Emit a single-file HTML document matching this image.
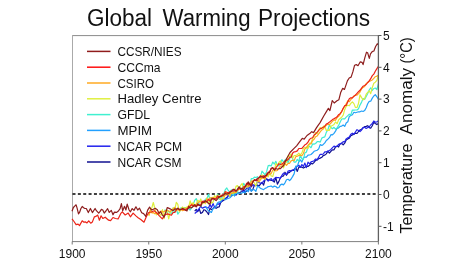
<!DOCTYPE html>
<html><head><meta charset="utf-8">
<style>
html,body{margin:0;padding:0;background:#fff;}
body{width:475px;height:265px;overflow:hidden;}
svg{display:block;will-change:transform;}
text{font-family:"Liberation Sans",sans-serif;fill:#111;}
.tk{font-size:12px;}
.lg{font-size:13.5px;}
.title{font-size:23px;}
.ylab{font-size:16.5px;}
</style></head>
<body>
<svg width="475" height="265" viewBox="0 0 475 265">
<text x="87" y="26" class="title" textLength="65.07" lengthAdjust="spacingAndGlyphs">Global</text>
<text x="162.5" y="26" class="title" textLength="88.03" lengthAdjust="spacingAndGlyphs">Warming</text>
<text x="258" y="26" class="title" textLength="112.07" lengthAdjust="spacingAndGlyphs">Projections</text>
<line x1="72" y1="35.6" x2="378.4" y2="35.6" stroke="#8a8a8a" stroke-width="1"/>
<line x1="72.5" y1="35.1" x2="72.5" y2="241.5" stroke="#aaa" stroke-width="1"/>
<line x1="72" y1="241.6" x2="378.4" y2="241.6" stroke="#808080" stroke-width="1"/>
<line x1="72.20" y1="241.5" x2="72.20" y2="244.5" stroke="#777" stroke-width="1"/>
<text x="72.20" y="257.8" class="tk" text-anchor="middle">1900</text>
<line x1="148.75" y1="241.5" x2="148.75" y2="244.5" stroke="#777" stroke-width="1"/>
<text x="148.75" y="257.8" class="tk" text-anchor="middle">1950</text>
<line x1="225.30" y1="241.5" x2="225.30" y2="244.5" stroke="#777" stroke-width="1"/>
<text x="225.30" y="257.8" class="tk" text-anchor="middle">2000</text>
<line x1="301.85" y1="241.5" x2="301.85" y2="244.5" stroke="#777" stroke-width="1"/>
<text x="301.85" y="257.8" class="tk" text-anchor="middle">2050</text>
<line x1="378.40" y1="241.5" x2="378.40" y2="244.5" stroke="#777" stroke-width="1"/>
<text x="378.40" y="257.8" class="tk" text-anchor="middle">2100</text>
<line x1="378.4" y1="226.30" x2="381.5" y2="226.30" stroke="#555" stroke-width="1"/>
<text x="383" y="230.60" class="tk">-1</text>
<line x1="378.4" y1="194.50" x2="381.5" y2="194.50" stroke="#555" stroke-width="1"/>
<text x="383" y="198.80" class="tk">0</text>
<line x1="378.4" y1="162.70" x2="381.5" y2="162.70" stroke="#555" stroke-width="1"/>
<text x="383" y="167.00" class="tk">1</text>
<line x1="378.4" y1="130.90" x2="381.5" y2="130.90" stroke="#555" stroke-width="1"/>
<text x="383" y="135.20" class="tk">2</text>
<line x1="378.4" y1="99.10" x2="381.5" y2="99.10" stroke="#555" stroke-width="1"/>
<text x="383" y="103.40" class="tk">3</text>
<line x1="378.4" y1="67.30" x2="381.5" y2="67.30" stroke="#555" stroke-width="1"/>
<text x="383" y="71.60" class="tk">4</text>
<line x1="378.4" y1="35.50" x2="381.5" y2="35.50" stroke="#555" stroke-width="1"/>
<text x="383" y="39.80" class="tk">5</text>
<line x1="72.5" y1="194" x2="378" y2="194" stroke="#000" stroke-width="1.6" stroke-dasharray="3 2.36"/>
<g>
<path d="M194.7,211.1 L196.2,209.3 L197.7,211.7 L199.3,209.0 L200.8,213.5 L202.3,212.6 L203.9,209.7 L205.4,210.3 L206.9,212.0 L208.5,214.5 L210.0,208.2 L211.5,209.6 L213.1,208.7 L214.6,206.8 L216.1,208.4 L217.6,207.2 L219.2,206.8 L220.7,202.6 L222.2,201.1 L223.8,200.3 L225.3,198.5 L226.8,197.5 L228.4,195.4 L229.9,196.0 L231.4,195.9 L233.0,195.0 L234.5,194.4 L236.0,195.0 L237.5,192.4 L239.1,193.6 L240.6,192.0 L242.1,191.5 L243.7,190.5 L245.2,191.7 L246.7,191.4 L248.3,189.6 L249.8,187.8 L251.3,191.0 L252.9,189.1 L254.4,185.1 L255.9,185.5 L257.5,185.1 L259.0,186.0 L260.5,184.2 L262.0,182.3 L263.6,185.1 L265.1,179.6 L266.6,178.8 L268.2,179.9 L269.7,180.0 L271.2,180.4 L272.8,180.5 L274.3,182.1 L275.8,177.7 L277.4,184.1 L278.9,181.4 L280.4,177.6 L281.9,176.5 L283.5,175.9 L285.0,172.2 L286.5,175.3 L288.1,172.8 L289.6,172.4 L291.1,170.5 L292.7,170.2 L294.2,170.5 L295.7,167.6 L297.3,171.4 L298.8,167.2 L300.3,166.9 L301.9,167.2 L303.4,168.1 L304.9,167.2 L306.4,166.3 L308.0,166.4 L309.5,165.3 L311.0,163.4 L312.6,163.9 L314.1,162.3 L315.6,160.4 L317.2,160.0 L318.7,158.6 L320.2,158.1 L321.8,157.3 L323.3,155.5 L324.8,155.1 L326.3,153.9 L327.9,151.3 L329.4,153.0 L330.9,151.3 L332.5,149.9 L334.0,149.8 L335.5,146.9 L337.1,146.1 L338.6,147.0 L340.1,143.8 L341.7,143.4 L343.2,144.9 L344.7,143.2 L346.2,139.9 L347.8,138.9 L349.3,138.3 L350.8,135.7 L352.4,134.9 L353.9,134.2 L355.4,133.1 L357.0,133.5 L358.5,131.5 L360.0,130.0 L361.6,129.2 L363.1,127.8 L364.6,126.6 L366.2,126.4 L367.7,125.7 L369.2,127.6 L370.7,128.2 L372.3,125.7 L373.8,122.3 L375.3,123.5 L376.9,124.6 L378.4,123.5" stroke="#101090" stroke-width="1.2" fill="none" stroke-linejoin="round"/>
<path d="M194.7,213.4 L196.2,212.3 L197.7,210.3 L199.3,208.3 L200.8,206.4 L202.3,208.2 L203.9,207.4 L205.4,206.9 L206.9,207.6 L208.5,207.9 L210.0,204.6 L211.5,207.5 L213.1,203.6 L214.6,207.4 L216.1,206.2 L217.6,203.6 L219.2,204.4 L220.7,201.8 L222.2,200.9 L223.8,198.9 L225.3,198.9 L226.8,198.5 L228.4,195.3 L229.9,194.4 L231.4,195.2 L233.0,194.2 L234.5,190.5 L236.0,195.0 L237.5,189.9 L239.1,188.0 L240.6,188.1 L242.1,190.3 L243.7,192.3 L245.2,189.6 L246.7,188.2 L248.3,188.1 L249.8,186.9 L251.3,186.8 L252.9,184.6 L254.4,185.7 L255.9,185.6 L257.5,181.2 L259.0,182.7 L260.5,183.1 L262.0,183.4 L263.6,181.1 L265.1,179.5 L266.6,179.3 L268.2,181.1 L269.7,179.4 L271.2,178.7 L272.8,180.9 L274.3,178.6 L275.8,177.4 L277.4,177.7 L278.9,177.7 L280.4,178.3 L281.9,175.4 L283.5,173.0 L285.0,173.8 L286.5,174.6 L288.1,171.1 L289.6,170.7 L291.1,171.1 L292.7,170.3 L294.2,169.2 L295.7,167.8 L297.3,166.2 L298.8,165.2 L300.3,167.4 L301.9,164.5 L303.4,166.5 L304.9,163.1 L306.4,167.6 L308.0,162.1 L309.5,163.8 L311.0,161.8 L312.6,161.4 L314.1,160.7 L315.6,159.0 L317.2,159.6 L318.7,157.0 L320.2,154.3 L321.8,154.4 L323.3,154.0 L324.8,151.8 L326.3,151.9 L327.9,150.9 L329.4,150.5 L330.9,149.4 L332.5,147.6 L334.0,146.1 L335.5,146.6 L337.1,146.3 L338.6,144.3 L340.1,143.9 L341.7,143.1 L343.2,141.6 L344.7,141.8 L346.2,138.9 L347.8,137.8 L349.3,137.1 L350.8,134.3 L352.4,133.2 L353.9,134.3 L355.4,132.0 L357.0,129.7 L358.5,130.6 L360.0,131.6 L361.6,130.0 L363.1,127.7 L364.6,127.2 L366.2,128.5 L367.7,127.5 L369.2,126.9 L370.7,125.0 L372.3,123.4 L373.8,121.0 L375.3,122.2 L376.9,122.0 L378.4,120.7" stroke="#2424ea" stroke-width="1.2" fill="none" stroke-linejoin="round"/>
<path d="M205.4,206.4 L206.9,208.7 L208.5,210.8 L210.0,211.6 L211.5,212.4 L213.1,208.4 L214.6,208.0 L216.1,205.7 L217.6,202.7 L219.2,201.9 L220.7,201.9 L222.2,199.3 L223.8,198.7 L225.3,199.7 L226.8,198.9 L228.4,198.5 L229.9,197.7 L231.4,196.4 L233.0,193.1 L234.5,196.1 L236.0,192.7 L237.5,193.9 L239.1,193.3 L240.6,193.2 L242.1,193.0 L243.7,191.8 L245.2,193.0 L246.7,189.8 L248.3,191.7 L249.8,188.3 L251.3,191.3 L252.9,189.4 L254.4,189.8 L255.9,191.4 L257.5,186.1 L259.0,187.0 L260.5,188.4 L262.0,189.0 L263.6,189.6 L265.1,188.4 L266.6,187.7 L268.2,186.6 L269.7,186.4 L271.2,186.0 L272.8,187.2 L274.3,186.1 L275.8,186.5 L277.4,188.0 L278.9,187.5 L280.4,184.9 L281.9,184.1 L283.5,184.9 L285.0,182.8 L286.5,179.8 L288.1,179.3 L289.6,180.6 L291.1,179.0 L292.7,176.4 L294.2,173.6 L295.7,166.0 L297.3,166.1 L298.8,161.9 L300.3,159.8 L301.9,162.1 L303.4,157.8 L304.9,157.0 L306.4,157.1 L308.0,155.2 L309.5,155.0 L311.0,154.5 L312.6,153.0 L314.1,151.3 L315.6,150.7 L317.2,150.2 L318.7,148.9 L320.2,144.6 L321.8,145.5 L323.3,144.4 L324.8,142.9 L326.3,140.5 L327.9,139.2 L329.4,137.7 L330.9,134.7 L332.5,134.8 L334.0,133.4 L335.5,131.1 L337.1,128.3 L338.6,127.9 L340.1,126.3 L341.7,126.1 L343.2,125.0 L344.7,126.4 L346.2,123.0 L347.8,121.8 L349.3,116.4 L350.8,115.5 L352.4,114.7 L353.9,112.3 L355.4,112.8 L357.0,112.3 L358.5,111.8 L360.0,111.8 L361.6,111.0 L363.1,111.5 L364.6,110.6 L366.2,107.8 L367.7,103.8 L369.2,101.4 L370.7,101.2 L372.3,98.1 L373.8,96.0 L375.3,94.6 L376.9,96.8 L378.4,99.2" stroke="#22a0f8" stroke-width="1.2" fill="none" stroke-linejoin="round"/>
<path d="M164.1,210.3 L165.6,210.0 L167.1,212.9 L168.7,211.1 L170.2,212.8 L171.7,213.6 L173.2,207.9 L174.8,211.9 L176.3,208.7 L177.8,214.2 L179.4,212.0 L180.9,207.8 L182.4,208.0 L184.0,207.7 L185.5,207.6 L187.0,209.9 L188.6,208.1 L190.1,210.1 L191.6,207.9 L193.1,204.9 L194.7,200.3 L196.2,198.6 L197.7,202.2 L199.3,204.2 L200.8,206.5 L202.3,201.7 L203.9,201.7 L205.4,199.2 L206.9,199.1 L208.5,194.2 L210.0,199.9 L211.5,197.6 L213.1,198.1 L214.6,199.1 L216.1,198.7 L217.6,194.0 L219.2,199.3 L220.7,198.6 L222.2,197.3 L223.8,193.6 L225.3,189.6 L226.8,188.0 L228.4,190.7 L229.9,192.0 L231.4,189.8 L233.0,195.1 L234.5,192.4 L236.0,192.9 L237.5,192.4 L239.1,186.9 L240.6,189.9 L242.1,188.7 L243.7,183.3 L245.2,186.0 L246.7,187.0 L248.3,186.4 L249.8,185.7 L251.3,178.5 L252.9,178.6 L254.4,177.2 L255.9,177.5 L257.5,176.7 L259.0,178.1 L260.5,176.6 L262.0,171.1 L263.6,173.1 L265.1,174.9 L266.6,171.7 L268.2,165.6 L269.7,165.4 L271.2,166.0 L272.8,162.0 L274.3,164.1 L275.8,161.3 L277.4,165.3 L278.9,165.9 L280.4,163.7 L281.9,159.7 L283.5,162.0 L285.0,160.0 L286.5,158.9 L288.1,162.7 L289.6,158.7 L291.1,155.3 L292.7,159.1 L294.2,162.2 L295.7,162.1 L297.3,159.4 L298.8,161.3 L300.3,155.1 L301.9,159.0 L303.4,159.4 L304.9,152.8 L306.4,152.1 L308.0,147.0 L309.5,146.4 L311.0,147.7 L312.6,143.9 L314.1,144.1 L315.6,143.5 L317.2,141.7 L318.7,141.5 L320.2,142.1 L321.8,138.1 L323.3,137.3 L324.8,136.9 L326.3,132.4 L327.9,129.7 L329.4,124.8 L330.9,127.5 L332.5,128.7 L334.0,127.3 L335.5,129.1 L337.1,127.9 L338.6,125.4 L340.1,122.3 L341.7,119.0 L343.2,118.9 L344.7,118.9 L346.2,117.2 L347.8,115.6 L349.3,114.2 L350.8,114.9 L352.4,110.0 L353.9,110.1 L355.4,110.0 L357.0,110.0 L358.5,108.7 L360.0,105.1 L361.6,102.1 L363.1,98.5 L364.6,99.4 L366.2,96.5 L367.7,93.4 L369.2,90.0 L370.7,87.8 L372.3,90.5 L373.8,88.5 L375.3,88.0 L376.9,89.5 L378.4,83.7" stroke="#40ecd0" stroke-width="1.2" fill="none" stroke-linejoin="round"/>
<path d="M148.8,216.0 L150.3,211.3 L151.8,207.9 L153.3,202.5 L154.9,208.6 L156.4,215.0 L157.9,213.1 L159.5,213.7 L161.0,215.3 L162.5,209.7 L164.1,218.6 L165.6,210.3 L167.1,211.4 L168.7,218.8 L170.2,212.1 L171.7,210.5 L173.2,207.9 L174.8,209.5 L176.3,202.3 L177.8,204.4 L179.4,212.0 L180.9,209.4 L182.4,207.0 L184.0,207.9 L185.5,208.0 L187.0,206.9 L188.6,207.6 L190.1,200.8 L191.6,205.3 L193.1,202.5 L194.7,205.8 L196.2,204.1 L197.7,200.3 L199.3,201.7 L200.8,199.0 L202.3,204.0 L203.9,202.0 L205.4,203.7 L206.9,197.8 L208.5,204.0 L210.0,199.7 L211.5,203.1 L213.1,202.2 L214.6,195.5 L216.1,197.5 L217.6,195.1 L219.2,196.9 L220.7,200.2 L222.2,198.5 L223.8,198.8 L225.3,191.7 L226.8,193.4 L228.4,194.1 L229.9,196.1 L231.4,191.2 L233.0,193.0 L234.5,192.8 L236.0,186.4 L237.5,185.6 L239.1,189.5 L240.6,185.4 L242.1,183.5 L243.7,188.8 L245.2,188.1 L246.7,185.7 L248.3,185.6 L249.8,183.4 L251.3,181.9 L252.9,181.1 L254.4,183.0 L255.9,185.9 L257.5,180.8 L259.0,179.9 L260.5,178.7 L262.0,174.7 L263.6,177.5 L265.1,179.5 L266.6,174.1 L268.2,176.9 L269.7,172.7 L271.2,176.0 L272.8,176.4 L274.3,170.9 L275.8,163.6 L277.4,165.7 L278.9,162.5 L280.4,161.0 L281.9,163.0 L283.5,167.9 L285.0,164.1 L286.5,161.9 L288.1,155.5 L289.6,156.7 L291.1,153.9 L292.7,158.2 L294.2,155.5 L295.7,155.5 L297.3,154.8 L298.8,153.2 L300.3,155.0 L301.9,152.9 L303.4,148.6 L304.9,147.6 L306.4,147.3 L308.0,148.5 L309.5,143.1 L311.0,143.1 L312.6,138.5 L314.1,136.5 L315.6,132.5 L317.2,133.9 L318.7,129.9 L320.2,127.5 L321.8,128.6 L323.3,126.2 L324.8,126.2 L326.3,130.5 L327.9,130.1 L329.4,130.3 L330.9,126.3 L332.5,125.4 L334.0,124.5 L335.5,122.0 L337.1,123.7 L338.6,119.9 L340.1,118.5 L341.7,117.1 L343.2,115.2 L344.7,109.7 L346.2,106.3 L347.8,105.2 L349.3,105.8 L350.8,103.4 L352.4,101.8 L353.9,103.6 L355.4,107.4 L357.0,107.5 L358.5,103.5 L360.0,94.9 L361.6,97.6 L363.1,99.9 L364.6,98.7 L366.2,94.2 L367.7,92.4 L369.2,90.8 L370.7,93.7 L372.3,87.5 L373.8,83.2 L375.3,82.2 L376.9,80.3 L378.4,74.8" stroke="#dcee3c" stroke-width="1.2" fill="none" stroke-linejoin="round"/>
<path d="M148.8,215.1 L150.3,209.8 L151.8,212.8 L153.3,212.6 L154.9,213.8 L156.4,212.9 L157.9,214.2 L159.5,212.4 L161.0,211.0 L162.5,211.8 L164.1,211.7 L165.6,210.6 L167.1,210.2 L168.7,211.1 L170.2,211.3 L171.7,209.7 L173.2,209.3 L174.8,207.3 L176.3,210.7 L177.8,209.3 L179.4,210.5 L180.9,209.5 L182.4,210.6 L184.0,210.2 L185.5,208.3 L187.0,208.8 L188.6,205.7 L190.1,207.1 L191.6,203.9 L193.1,204.8 L194.7,205.6 L196.2,204.5 L197.7,203.2 L199.3,201.9 L200.8,201.8 L202.3,203.0 L203.9,202.9 L205.4,201.1 L206.9,199.1 L208.5,200.4 L210.0,197.9 L211.5,197.9 L213.1,197.3 L214.6,198.5 L216.1,197.9 L217.6,197.7 L219.2,197.0 L220.7,195.4 L222.2,195.9 L223.8,196.8 L225.3,195.0 L226.8,194.8 L228.4,193.5 L229.9,194.1 L231.4,193.5 L233.0,193.1 L234.5,192.0 L236.0,192.8 L237.5,190.3 L239.1,189.2 L240.6,188.2 L242.1,188.7 L243.7,186.9 L245.2,185.9 L246.7,186.6 L248.3,186.9 L249.8,185.7 L251.3,181.0 L252.9,181.2 L254.4,180.5 L255.9,179.7 L257.5,179.9 L259.0,182.0 L260.5,179.7 L262.0,177.9 L263.6,178.5 L265.1,177.3 L266.6,176.3 L268.2,174.4 L269.7,173.9 L271.2,173.6 L272.8,170.1 L274.3,168.7 L275.8,170.8 L277.4,170.5 L278.9,168.1 L280.4,166.2 L281.9,165.9 L283.5,163.9 L285.0,163.7 L286.5,165.3 L288.1,163.3 L289.6,163.3 L291.1,160.9 L292.7,160.3 L294.2,160.6 L295.7,156.8 L297.3,156.2 L298.8,155.5 L300.3,155.2 L301.9,155.7 L303.4,153.5 L304.9,148.9 L306.4,147.7 L308.0,145.3 L309.5,143.9 L311.0,143.9 L312.6,140.6 L314.1,139.2 L315.6,136.8 L317.2,135.9 L318.7,133.9 L320.2,131.9 L321.8,129.9 L323.3,129.0 L324.8,126.6 L326.3,125.4 L327.9,124.1 L329.4,124.6 L330.9,123.0 L332.5,121.2 L334.0,119.9 L335.5,120.3 L337.1,117.6 L338.6,116.3 L340.1,114.3 L341.7,111.6 L343.2,108.6 L344.7,106.2 L346.2,103.9 L347.8,100.7 L349.3,101.7 L350.8,99.7 L352.4,97.6 L353.9,96.2 L355.4,95.0 L357.0,95.2 L358.5,93.7 L360.0,92.1 L361.6,88.8 L363.1,87.4 L364.6,86.5 L366.2,83.5 L367.7,82.6 L369.2,81.2 L370.7,80.8 L372.3,79.9 L373.8,78.3 L375.3,76.7 L376.9,76.1 L378.4,75.3" stroke="#ffa820" stroke-width="1.2" fill="none" stroke-linejoin="round"/>
<path d="M72.0,218.8 L74.0,221.5 L76.1,224.6 L78.1,224.2 L79.5,225.6 L82.2,220.8 L83.9,222.2 L85.6,221.9 L87.0,222.9 L88.7,220.8 L90.7,223.2 L92.4,221.9 L94.4,216.8 L95.8,216.4 L97.7,215.1 L99.4,220.2 L101.1,215.8 L102.8,218.5 L105.2,217.2 L108.6,220.2 L110.6,220.6 L113.0,217.5 L115.4,218.5 L118.1,218.9 L120.8,213.4 L122.3,211.8 L125.2,215.0 L128.2,213.1 L130.4,216.8 L133.1,213.1 L135.9,215.9 L138.1,217.7 L140.8,219.5 L144.0,222.2 L146.3,216.8 L148.7,212.5 L151.4,212.0 L154.2,210.7 L156.9,213.0 L159.6,216.1 L162.3,218.8 L165.0,214.8 L167.7,213.9 L171.4,215.2 L173.2,212.4 L174.8,212.5 L176.3,209.9 L177.8,208.3 L179.4,209.3 L180.9,209.4 L182.4,209.3 L184.0,209.7 L185.5,210.2 L187.0,208.8 L188.6,208.4 L190.1,206.0 L191.6,204.8 L193.1,205.8 L194.7,206.2 L196.2,206.1 L197.7,205.5 L199.3,205.2 L200.8,204.8 L202.3,201.3 L203.9,201.1 L205.4,202.0 L206.9,202.0 L208.5,199.2 L210.0,201.1 L211.5,199.4 L213.1,198.7 L214.6,198.7 L216.1,198.8 L217.6,195.9 L219.2,197.5 L220.7,196.5 L222.2,194.8 L223.8,194.5 L225.3,191.7 L226.8,192.3 L228.4,192.9 L229.9,191.6 L231.4,191.2 L233.0,190.9 L234.5,190.5 L236.0,191.1 L237.5,189.6 L239.1,188.4 L240.6,188.5 L242.1,189.8 L243.7,186.8 L245.2,186.3 L246.7,183.2 L248.3,185.1 L249.8,184.3 L251.3,184.3 L252.9,182.1 L254.4,179.7 L255.9,180.7 L257.5,180.3 L259.0,177.7 L260.5,175.7 L262.0,176.7 L263.6,175.7 L265.1,177.9 L266.6,174.1 L268.2,172.3 L269.7,171.5 L271.2,168.7 L272.8,168.0 L274.3,170.0 L275.8,167.8 L277.4,165.8 L278.9,163.7 L280.4,164.5 L281.9,164.1 L283.5,162.8 L285.0,160.9 L286.5,160.4 L288.1,159.6 L289.6,157.3 L291.1,157.2 L292.7,153.0 L294.2,151.8 L295.7,151.6 L297.3,150.9 L298.8,148.5 L300.3,148.5 L301.9,148.4 L303.4,146.6 L304.9,144.8 L306.4,144.0 L308.0,142.2 L309.5,139.4 L311.0,138.2 L312.6,137.7 L314.1,135.0 L315.6,133.9 L317.2,132.2 L318.7,130.4 L320.2,128.8 L321.8,128.1 L323.3,127.2 L324.8,126.2 L326.3,124.1 L327.9,123.3 L329.4,122.1 L330.9,120.9 L332.5,119.6 L334.0,118.7 L335.5,117.9 L337.1,116.8 L338.6,114.7 L340.1,113.7 L341.7,111.5 L343.2,108.2 L344.7,105.7 L346.2,105.5 L347.8,101.8 L349.3,98.8 L350.8,97.8 L352.4,97.9 L353.9,96.2 L355.4,95.2 L357.0,93.4 L358.5,91.7 L360.0,90.3 L361.6,88.1 L363.1,86.2 L364.6,85.5 L366.2,84.5 L367.7,82.5 L369.2,80.9 L370.7,78.7 L372.3,75.6 L373.8,74.1 L375.3,71.2 L376.9,68.6 L378.4,66.3" stroke="#ec2418" stroke-width="1.2" fill="none" stroke-linejoin="round"/>
<path d="M72.0,211.2 L73.4,207.5 L74.7,206.1 L76.1,204.8 L77.1,208.2 L78.5,213.9 L79.8,211.9 L80.8,208.8 L82.2,206.5 L83.6,207.8 L84.9,208.5 L86.3,208.5 L88.3,212.6 L90.4,208.5 L92.4,212.6 L95.1,208.5 L96.4,210.7 L98.7,213.1 L100.1,211.4 L101.4,209.4 L102.8,210.0 L104.2,213.1 L105.9,211.0 L107.6,208.7 L109.3,212.4 L111.3,210.4 L113.0,214.8 L114.4,212.1 L116.7,212.4 L118.4,211.0 L120.1,208.7 L121.4,203.6 L122.7,210.9 L124.5,206.3 L125.9,210.0 L127.2,204.1 L129.1,210.0 L130.4,211.8 L132.2,208.6 L134.0,210.4 L135.9,206.8 L137.7,210.0 L139.5,208.2 L141.7,212.7 L143.6,213.6 L145.8,216.3 L147.8,209.8 L149.6,207.1 L151.4,209.8 L153.2,209.3 L155.5,208.4 L157.3,209.8 L159.1,213.4 L160.5,211.6 L162.3,214.8 L164.1,217.0 L165.9,212.0 L167.3,207.5 L169.1,208.4 L170.9,209.3 L173.2,210.7 L174.8,208.8 L176.3,209.4 L177.8,208.1 L179.4,209.8 L180.9,209.6 L182.4,208.4 L184.0,209.1 L185.5,210.1 L187.0,210.9 L188.6,206.4 L190.1,208.0 L191.6,207.7 L193.1,206.5 L194.7,204.7 L196.2,206.9 L197.7,203.9 L199.3,205.2 L200.8,206.3 L202.3,202.3 L203.9,202.5 L205.4,200.7 L206.9,201.8 L208.5,203.4 L210.0,204.2 L211.5,198.8 L213.1,198.4 L214.6,199.5 L216.1,200.6 L217.6,198.9 L219.2,196.4 L220.7,196.6 L222.2,195.8 L223.8,194.9 L225.3,193.4 L226.8,194.1 L228.4,193.7 L229.9,192.6 L231.4,191.6 L233.0,189.4 L234.5,189.4 L236.0,191.2 L237.5,189.4 L239.1,186.7 L240.6,189.2 L242.1,188.3 L243.7,189.6 L245.2,186.6 L246.7,184.5 L248.3,181.9 L249.8,184.4 L251.3,186.2 L252.9,181.6 L254.4,179.9 L255.9,180.5 L257.5,178.2 L259.0,177.7 L260.5,176.9 L262.0,176.9 L263.6,177.4 L265.1,175.5 L266.6,175.4 L268.2,172.8 L269.7,172.4 L271.2,168.3 L272.8,167.6 L274.3,170.0 L275.8,168.5 L277.4,169.2 L278.9,168.7 L280.4,168.7 L281.9,167.0 L283.5,165.7 L285.0,162.2 L286.5,158.7 L288.1,156.0 L290.0,152.5 L293.8,148.7 L296.6,145.8 L299.4,142.1 L302.3,138.3 L304.2,139.2 L307.0,135.5 L309.8,133.6 L311.7,131.7 L313.6,132.6 L316.4,127.9 L318.3,125.1 L320.1,122.6 L323.9,115.8 L326.1,112.1 L328.4,108.3 L329.9,110.6 L332.3,100.5 L334.2,103.0 L337.0,100.7 L338.9,99.7 L340.8,92.2 L342.6,88.4 L344.5,89.4 L347.4,80.9 L349.2,78.0 L351.1,77.1 L353.0,71.4 L354.6,65.2 L356.3,64.6 L358.0,65.7 L360.3,61.8 L362.0,62.3 L363.1,64.6 L364.8,57.8 L366.5,52.2 L367.6,52.7 L369.3,58.4 L370.5,53.9 L372.2,51.6 L373.9,51.0 L375.6,46.5 L377.3,43.7 L378.4,44.8" stroke="#8e1e1e" stroke-width="1.2" fill="none" stroke-linejoin="round"/>
</g>
<line x1="378.4" y1="35.1" x2="378.4" y2="241.6" stroke="#606060" stroke-width="1.3"/>
<line x1="87" y1="51.4" x2="110.5" y2="51.4" stroke="#901c1c" stroke-width="1.5"/>
<text x="117.5" y="56.0" class="lg" textLength="64.04" lengthAdjust="spacingAndGlyphs">CCSR/NIES</text>
<line x1="87" y1="67.2" x2="110.5" y2="67.2" stroke="#ff1010" stroke-width="1.5"/>
<text x="117.5" y="71.8" class="lg" textLength="43.01" lengthAdjust="spacingAndGlyphs">CCCma</text>
<line x1="87" y1="83.0" x2="110.5" y2="83.0" stroke="#ffaa22" stroke-width="1.5"/>
<text x="117.5" y="87.6" class="lg" textLength="36.56" lengthAdjust="spacingAndGlyphs">CSIRO</text>
<line x1="87" y1="98.8" x2="110.5" y2="98.8" stroke="#e0f040" stroke-width="1.5"/>
<text x="117.5" y="103.4" class="lg" textLength="84.03" lengthAdjust="spacingAndGlyphs">Hadley Centre</text>
<line x1="87" y1="114.6" x2="110.5" y2="114.6" stroke="#40f0d0" stroke-width="1.5"/>
<text x="117.5" y="119.2" class="lg" textLength="32.53" lengthAdjust="spacingAndGlyphs">GFDL</text>
<line x1="87" y1="130.4" x2="110.5" y2="130.4" stroke="#22a0ff" stroke-width="1.5"/>
<text x="117.5" y="135.0" class="lg" textLength="34.6" lengthAdjust="spacingAndGlyphs">MPIM</text>
<line x1="87" y1="146.2" x2="110.5" y2="146.2" stroke="#2222ee" stroke-width="1.5"/>
<text x="117.5" y="150.8" class="lg" textLength="64.53" lengthAdjust="spacingAndGlyphs">NCAR PCM</text>
<line x1="87" y1="162.0" x2="110.5" y2="162.0" stroke="#101090" stroke-width="1.5"/>
<text x="117.5" y="166.6" class="lg" textLength="64.06" lengthAdjust="spacingAndGlyphs">NCAR CSM</text>
<text transform="translate(412,233.5) rotate(-90)" class="ylab" textLength="90.01" lengthAdjust="spacingAndGlyphs">Temperature</text>
<text transform="translate(412,134.5) rotate(-90)" class="ylab" textLength="66.53" lengthAdjust="spacingAndGlyphs">Anomaly</text>
<text transform="translate(412,63.5) rotate(-90)" class="ylab" textLength="26.16" lengthAdjust="spacingAndGlyphs">(°C)</text>
</svg>
</body></html>
